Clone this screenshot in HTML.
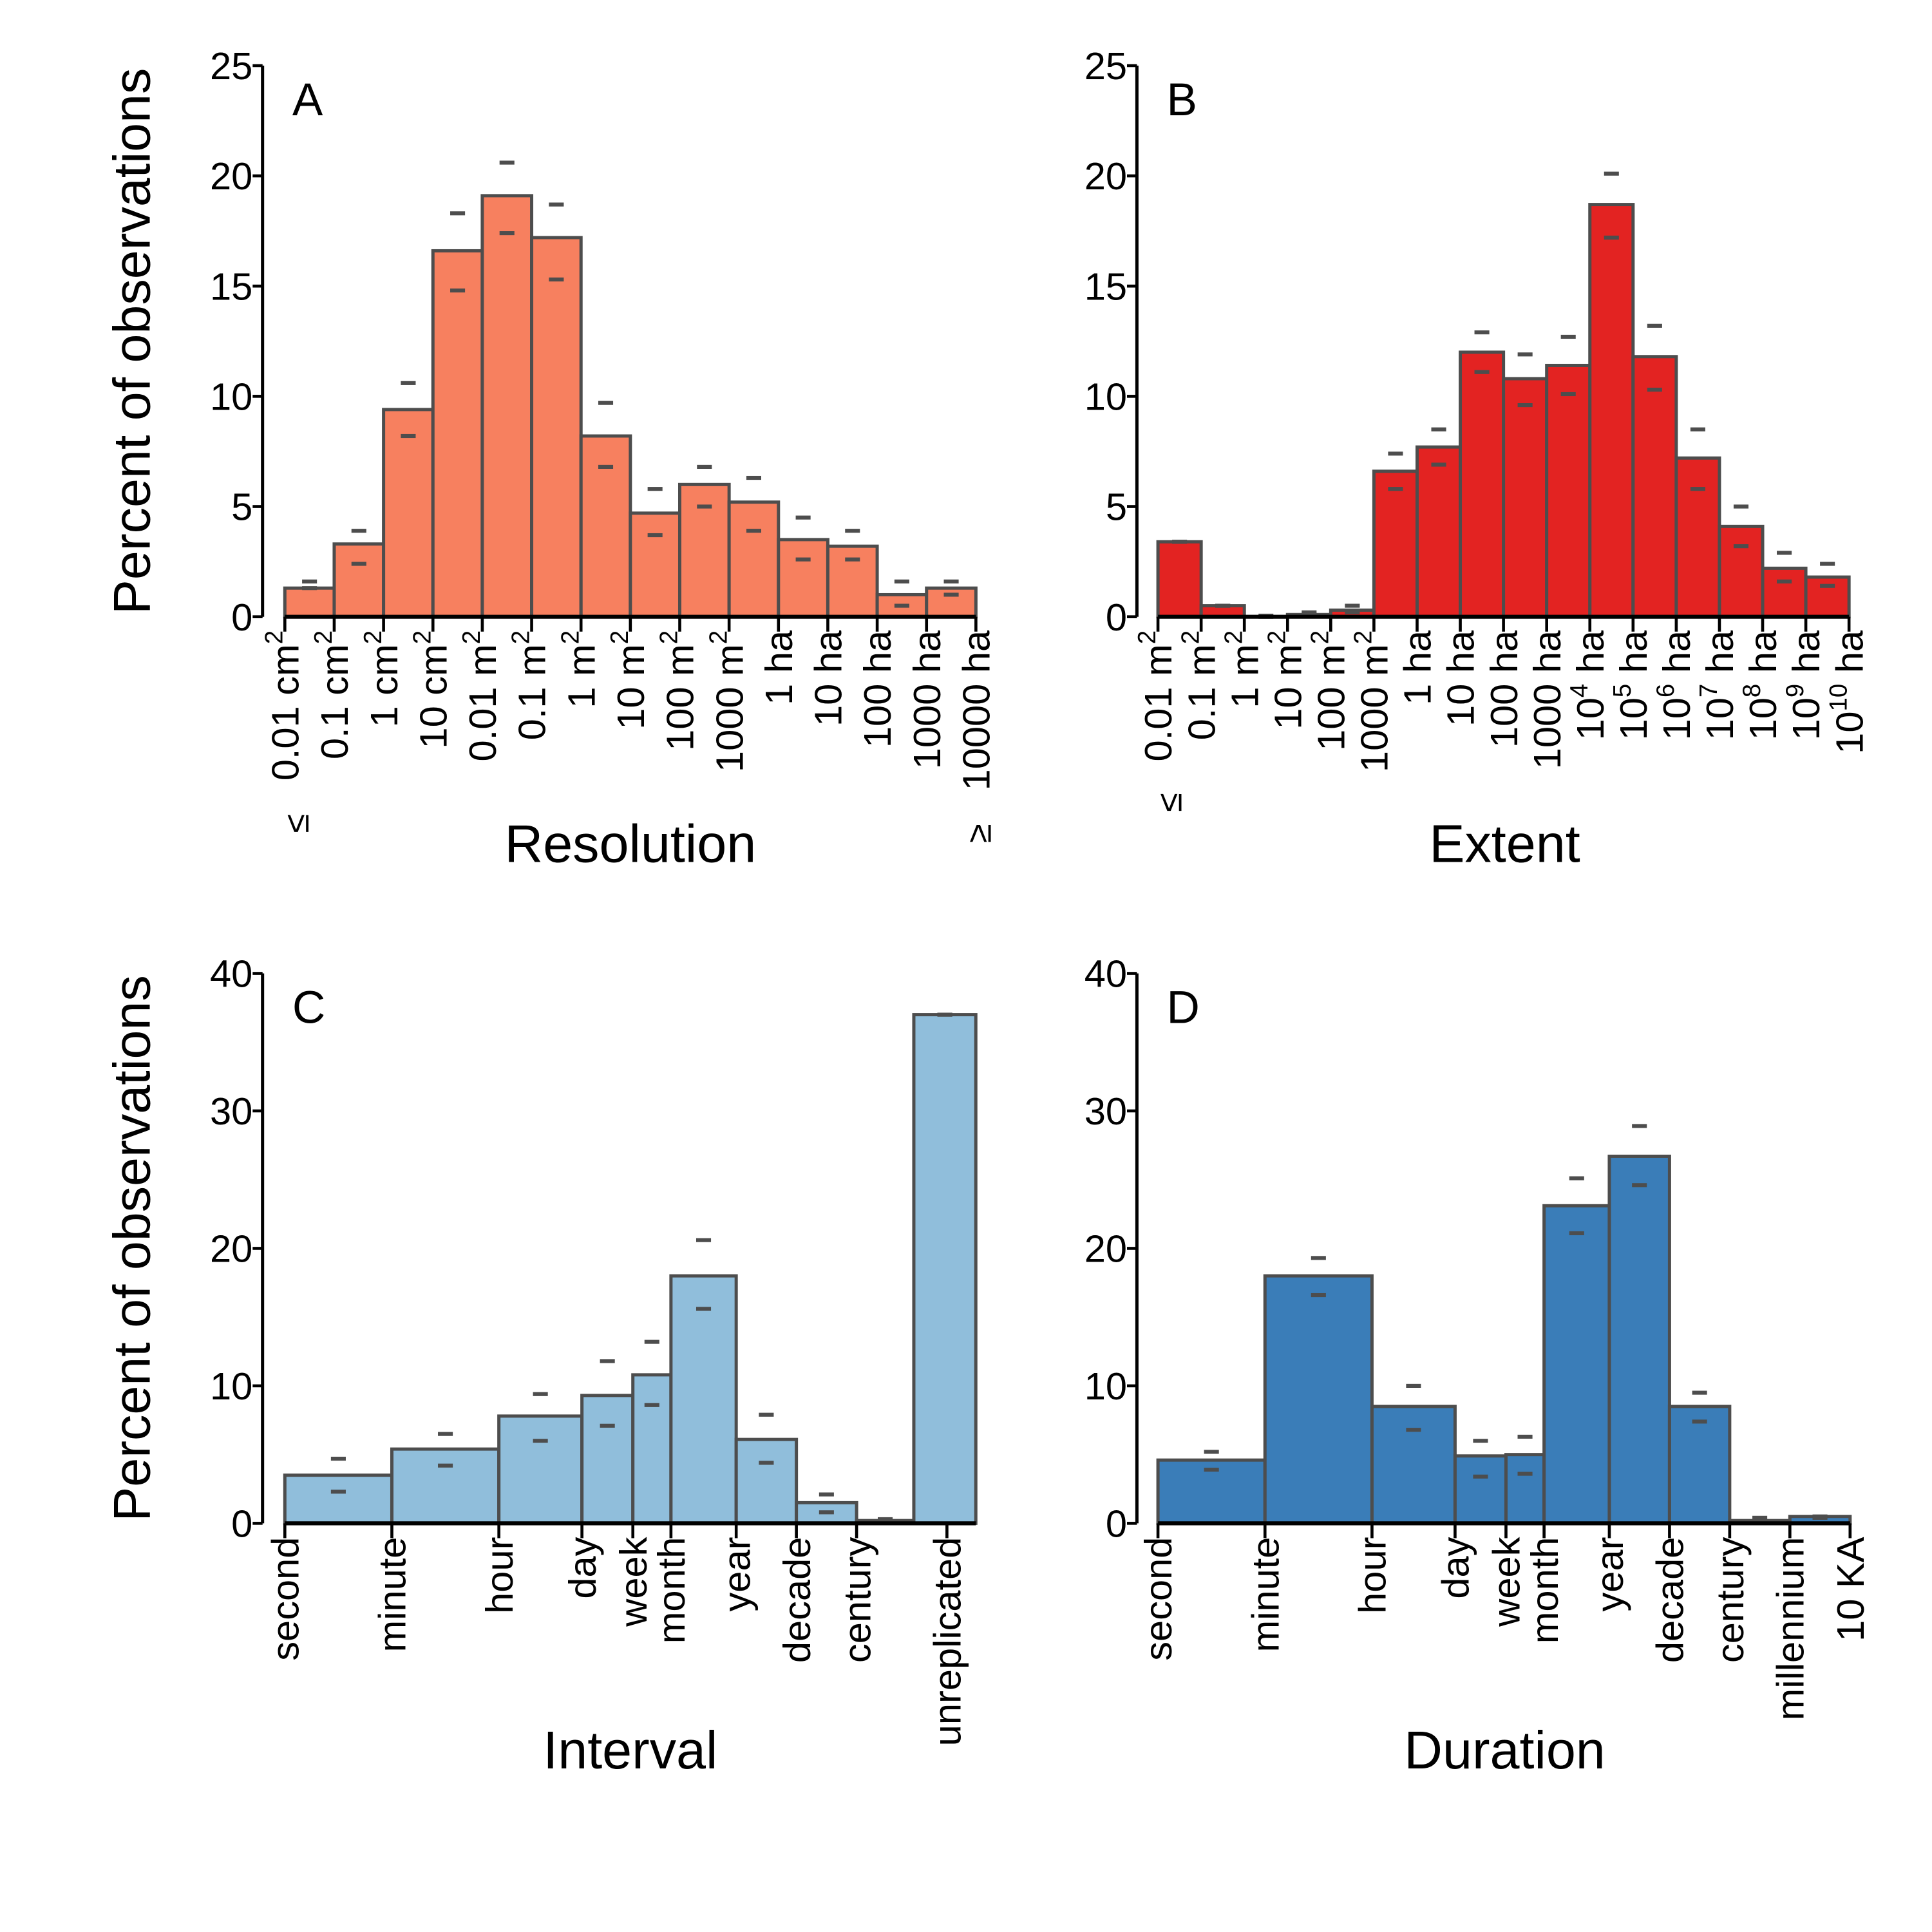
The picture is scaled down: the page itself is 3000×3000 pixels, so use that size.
<!DOCTYPE html>
<html><head><meta charset="utf-8"><style>
html,body{margin:0;padding:0;background:#fff}
svg{display:block;font-family:"Liberation Sans",Arial,sans-serif}
</style></head><body>
<svg id="chart" width="3000" height="3000" viewBox="0 0 1560 1560" xmlns="http://www.w3.org/2000/svg"></svg>
<script>
// Panel A data
const aLabels = ["0.01 cm|2","0.1 cm|2","1 cm|2","10 cm|2","0.01 m|2","0.1 m|2","1 m|2","10 m|2","100 m|2","1000 m|2","1 ha","10 ha","100 ha","1000 ha","10000 ha"];
const aValues = [1.3,3.3,9.4,16.6,19.1,17.2,8.2,4.7,6.0,5.2,3.5,3.2,1.0,1.3];
const aUpper = [1.6,3.9,10.6,18.3,20.6,18.7,9.7,5.8,6.8,6.3,4.5,3.9,1.6,1.6];
const aLower = [1.3,2.4,8.2,14.8,17.4,15.3,6.8,3.7,5.0,3.9,2.6,2.6,0.5,1.0];
const aTicks = [0,5,10,15,20,25];
// Panel B data
const bLabels = ["0.01 m|2","0.1 m|2","1 m|2","10 m|2","100 m|2","1000 m|2","1 ha","10 ha","100 ha","1000 ha","10|4| ha","10|5| ha","10|6| ha","10|7| ha","10|8| ha","10|9| ha","10|10| ha"];
const bValues = [3.4,0.5,0.0,0.1,0.3,6.6,7.7,12.0,10.8,11.4,18.7,11.8,7.2,4.1,2.2,1.8];
const bUpper = [3.4,0.5,0.05,0.2,0.5,7.4,8.5,12.9,11.9,12.7,20.1,13.2,8.5,5.0,2.9,2.4];
const bLower = [3.4,0.5,0.0,0.1,0.2,5.8,6.9,11.1,9.6,10.1,17.2,10.3,5.8,3.2,1.6,1.4];
// Panel C data (log10 seconds for tick positions)
const cLabels = ["second","minute","hour","day","week","month","year","decade","century","unreplicated"];
const cLogPos = [0,1.778,3.556,4.936,5.782,6.415,7.499,8.499,9.499,11.0];
const cEdges = [0,1.778,3.556,4.936,5.782,6.415,7.499,8.499,9.499,10.45,11.48];
const cValues = [3.5,5.4,7.8,9.3,10.8,18.0,6.1,1.5,0.2,37.0];
const cUpper = [4.7,6.5,9.4,11.8,13.2,20.6,7.9,2.1,0.3,37.0];
const cLower = [2.3,4.2,6.0,7.1,8.6,15.6,4.4,0.8,0.2,37.0];
const cdTicks = [0,10,20,30,40];
// Panel D data
const dLabels = ["second","minute","hour","day","week","month","year","decade","century","millennium","10 KA"];
const dLogPos = [0,1.778,3.556,4.936,5.782,6.415,7.499,8.499,9.499,10.499,11.499];
const dValues = [4.6,18.0,8.5,4.9,5.0,23.1,26.7,8.5,0.2,0.5];
const dUpper = [5.2,19.3,10.0,6.0,6.3,25.1,28.9,9.5,0.4,0.5];
const dLower = [3.9,16.6,6.8,3.4,3.6,21.1,24.6,7.4,0.1,0.4];

const NS="http://www.w3.org/2000/svg";
const svg=document.getElementById('chart');
function mk(tag,attrs,parent){const e=document.createElementNS(NS,tag);for(const k in attrs)e.setAttribute(k,attrs[k]);(parent||svg).appendChild(e);return e;}

function panel(o){
  const g=mk('g',{});
  
  
  const y=v=>o.y0-(v/o.ymax)*(o.y0-o.ytop);
  const ya=mk('line',{x1:o.ax,x2:o.ax,y1:o.ytop,y2:o.y0,stroke:'#000','stroke-width':2.6},g);
  
  
  o.yticks.forEach(t=>{
    mk('line',{x1:o.ax-8,x2:o.ax,y1:y(t),y2:y(t),stroke:'#000','stroke-width':2.4},g);
    const tx=mk('text',{x:o.ax-8,y:y(t)+11,'text-anchor':'end','font-size':31},g);
    tx.textContent=t;
    
    
  });
  o.bars.forEach((b,i)=>{
    const r=mk('rect',{x:b.x0,y:y(b.v),width:b.x1-b.x0,height:y(0)-y(b.v),fill:o.color,stroke:'#4d4d4d','stroke-width':2.6},g);
    
    
    const cx=(b.x0+b.x1)/2;
    [b.hi,b.lo].forEach(e=>{
      const m=mk('rect',{x:cx-6,y:y(e)-1.6,width:12,height:3.2,fill:'#4d4d4d'},g);
      
      
    });
  });
  const xa=mk('line',{x1:o.xa0,x2:o.xa1,y1:o.y0,y2:o.y0,stroke:'#000','stroke-width':3.2},g);
  
  
  o.ticks.forEach((t,i)=>{
    mk('line',{x1:t.x,x2:t.x,y1:o.y0,y2:o.y0+12,stroke:'#000','stroke-width':2.4},g);
    const tx=mk('text',{transform:`translate(${t.x+11},${o.y0+11}) rotate(-90)`,'text-anchor':'end','font-size':31},g);
    
    
    const parts=t.label.split('|');
    parts.forEach((p,j)=>{
      const ts=mk('tspan',{},tx);
      if(j%2===1){ts.setAttribute('font-size',20);ts.setAttribute('dy',-13);}
      else if(j>0){ts.setAttribute('dy',13);}
      ts.textContent=p;
    });
  });
  const lt=mk('text',{x:o.ax+24,y:o.ytop+40,'font-size':37},g);
  lt.textContent=o.letter;
  
  
  const xt=mk('text',{x:o.xtx,y:o.xty,'text-anchor':'middle','font-size':43},g);
  xt.textContent=o.xtitle;
  
  
  if(o.ytitle){
    const yt=mk('text',{transform:`translate(121,${(o.ytop+o.y0)/2}) rotate(-90)`,'text-anchor':'middle','font-size':42},g);
    yt.textContent='Percent of observations';
    
    
  }
  return g;
}

(function(){
  const x0=230,x1=788,n=aValues.length,w=(x1-x0)/n;
  panel({name:'panel-a-resolution',ax:212,ytop:53,y0:498,ymax:25,yticks:aTicks,color:'#f7805f',
    bars:aValues.map((v,i)=>({x0:x0+i*w,x1:x0+(i+1)*w,v,hi:aUpper[i],lo:aLower[i]})),
    xa0:x0,xa1:x1,ticks:aLabels.map((l,i)=>({x:x0+i*w,label:l})),letter:'A',xtitle:'Resolution',xtx:509,xty:696,ytitle:true});
  const le=mk('text',{transform:'translate(249,665) rotate(-90)','text-anchor':'middle','font-size':28});le.textContent='≤';
  
  const ge=mk('text',{transform:'translate(800,673) rotate(-90)','text-anchor':'middle','font-size':28});ge.textContent='≥';
  
})();
(function(){
  const x0=935,x1=1493,n=bValues.length,w=(x1-x0)/n;
  panel({name:'panel-b-extent',ax:918,ytop:53,y0:498,ymax:25,yticks:aTicks,color:'#e32322',
    bars:bValues.map((v,i)=>({x0:x0+i*w,x1:x0+(i+1)*w,v,hi:bUpper[i],lo:bLower[i]})),
    xa0:x0,xa1:x1,ticks:bLabels.map((l,i)=>({x:x0+i*w,label:l})),letter:'B',xtitle:'Extent',xtx:1215,xty:696,ytitle:false});
  const le=mk('text',{transform:'translate(954,648) rotate(-90)','text-anchor':'middle','font-size':28});le.textContent='≤';
  
})();
(function(){
  const x0=230,k=48.6,X=l=>Math.min(788,x0+l*k);
  panel({name:'panel-c-interval',ax:212,ytop:786,y0:1230,ymax:40,yticks:cdTicks,color:'#90bedb',
    bars:cValues.map((v,i)=>({x0:X(cEdges[i]),x1:X(cEdges[i+1]),v,hi:cUpper[i],lo:cLower[i]})),
    xa0:x0,xa1:788,ticks:cLabels.map((l,i)=>({x:X(cLogPos[i]),label:l})),letter:'C',xtitle:'Interval',xtx:509,xty:1428,ytitle:true});
})();
(function(){
  const x0=935,k=48.6,X=l=>x0+l*k;
  panel({name:'panel-d-duration',ax:918,ytop:786,y0:1230,ymax:40,yticks:cdTicks,color:'#3a7db8',
    bars:dValues.map((v,i)=>({x0:X(dLogPos[i]),x1:X(dLogPos[i+1]),v,hi:dUpper[i],lo:dLower[i]})),
    xa0:x0,xa1:X(dLogPos[dLogPos.length-1]),ticks:dLabels.map((l,i)=>({x:X(dLogPos[i]),label:l})),letter:'D',xtitle:'Duration',xtx:1215,xty:1428,ytitle:false});
})();
</script>
</body></html>
